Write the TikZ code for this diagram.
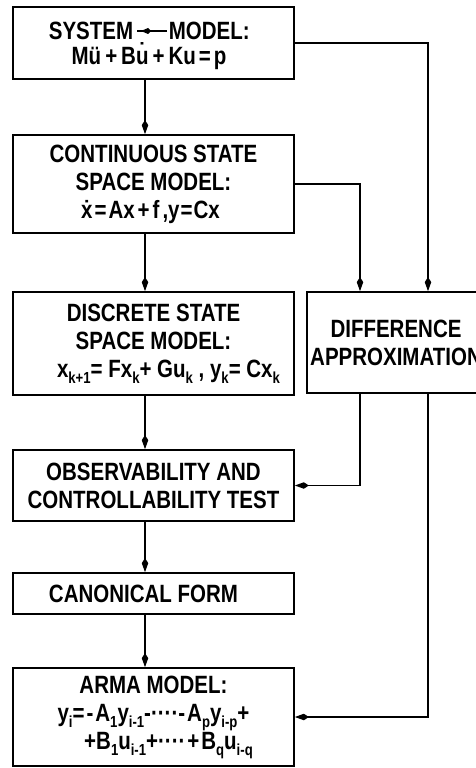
\documentclass[tikz,border=0pt]{standalone}
\usepackage{fontspec}
\setmainfont{Liberation Sans}[FakeStretch=0.82,UprightFont=*-Bold]
\usetikzlibrary{arrows.meta,calc}
\newcommand\sbs[1]{\raisebox{-6pt}{\fontsize{16}{16}\selectfont #1}}
\begin{document}
\begin{tikzpicture}[x=1pt,y=-1pt, line width=1.7pt,
  box/.style={draw, rectangle, inner sep=0pt, align=center, font=\fontsize{25}{28}\selectfont},
  txt/.style={inner sep=0pt, font=\fontsize{25}{28}\selectfont},
  arr/.style={-{Kite[length=14pt,width=6.5pt,inset=5pt]}},
  smallarr/.style={line width=1.4pt,-{Kite[length=10pt,width=6pt,inset=3pt]}}]
\useasboundingbox (0,0) rectangle (476,768);
\begin{scope}
\clip (0,0) rectangle (476,768);
\node[box, minimum width=281pt, minimum height=72pt] (b1) at (153.5,43) {};
\node[txt, anchor=base east] (sys) at (134,40) {SYSTEM};
\node[txt, anchor=base west] (mod) at (168,40) {MODEL:};
\node[txt, anchor=base] (eq1) at (149,64) {M\"u\hspace{4pt}+\hspace{4pt}B\.u\hspace{4pt}+\hspace{4pt}Ku\hspace{3pt}=\hspace{3pt}p};
\draw[smallarr] ($(mod.base west)+(-1,-9)$) -- ($(sys.base east)+(7,-9)$);
\draw[line width=1.4pt] ($(sys.base east)+(3,-9)$) -- ($(sys.base east)+(10,-9)$);
\node[box, minimum width=281pt, minimum height=98pt] (b2) at (153.5,184)
  {CONTINUOUS STATE\\SPACE MODEL:\\\.x\hspace{2pt}=\hspace{2pt}Ax\hspace{3pt}+\hspace{3pt}f\hspace{3pt},y\hspace{1pt}=\hspace{1pt}Cx\hspace*{6pt}};
\node[box, minimum width=281pt, minimum height=103pt] (b3) at (153.5,343.5)
  {DISCRETE STATE\\SPACE MODEL:\\\hspace*{30pt}x\sbs{k+1}= Fx\sbs{k}+ Gu\sbs{k} , y\sbs{k}= Cx\sbs{k}};
\node[box, minimum width=178pt, minimum height=101pt] (d) at (396,342.5)
  {DIFFERENCE\\APPROXIMATION};
\node[box, minimum width=281pt, minimum height=71pt] (b4) at (153.5,485.5)
  {OBSERVABILITY AND\\CONTROLLABILITY TEST};
\node[box, minimum width=281pt, minimum height=41pt] (b5) at (153.5,593.5)
  {CANONICAL FORM\hspace*{20pt}};
\node[box, minimum width=281pt, minimum height=98pt] (b6) at (153.5,717)
  {ARMA MODEL:\\y\sbs{i}=\hspace{2pt}-\hspace{2pt}A\sbs{1}y\sbs{i-1}-····-\hspace{2pt}A\sbs{p}y\sbs{i-p}+\\\hspace*{30pt}+B\sbs{1}u\sbs{i-1}+····\hspace{2pt}+\hspace{2pt}B\sbs{q}u\sbs{i-q}};
\coordinate (ax) at (145,0);
\coordinate (c1) at (428,0);
\coordinate (c2) at (360,0);
\draw[arr] (ax |- b1.south) -- (ax |- b2.north);
\draw[arr] (ax |- b2.south) -- (ax |- b3.north);
\draw[arr] (ax |- b3.south) -- (ax |- b4.north);
\draw[arr] (ax |- b4.south) -- (ax |- b5.north);
\draw[arr] (ax |- b5.south) -- (ax |- b6.north);
\draw[arr] (b1.east) -| (c1 |- d.north);
\draw[arr] (b2.east) -| (c2 |- d.north);
\draw[arr] (c2 |- d.south) |- (b4.east);
\draw[arr] (c1 |- d.south) |- (b6.east);
\end{scope}
\end{tikzpicture}
\end{document}
